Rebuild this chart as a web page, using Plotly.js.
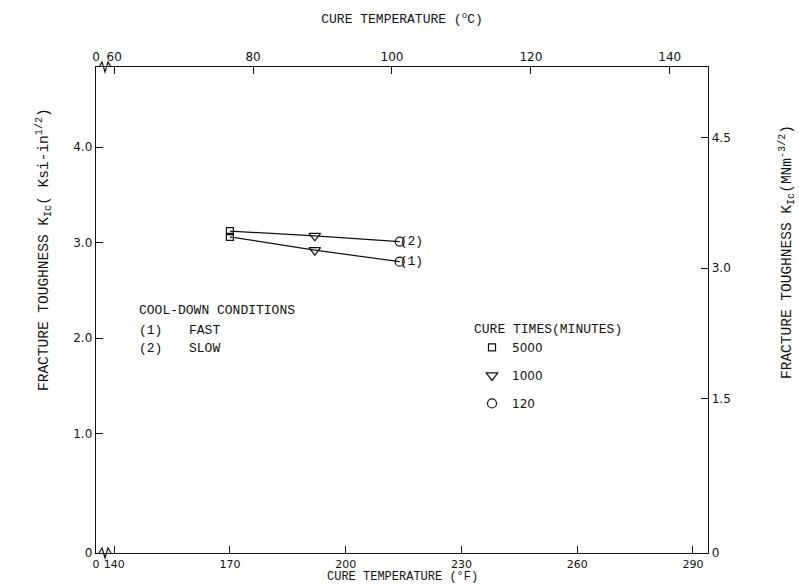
<!DOCTYPE html>
<html>
<head>
<meta charset="utf-8">
<script src="https://cdn.plot.ly/plotly-3.0.1.min.js"></script>
<style>html,body{margin:0;padding:0;background:#fff;}#chart{width:799px;height:585px;}</style>
</head>
<body>
<div id="chart"></div>
<script>
// ---- data ----
const tempF = [170, 192, 214];                 // cure temperature (°F)
const cureTimes = ['5000', '1000', '120'];     // cure time (minutes) at each temperature
const kSlow = [3.12, 3.07, 3.01];              // K_Ic (ksi·in^1/2), slow cool-down (2)
const kFast = [3.06, 2.92, 2.80];              // K_Ic (ksi·in^1/2), fast cool-down (1)
const lineLabels = ['(2)', '(1)'];
const xTicksF = [140, 170, 200, 230, 260, 290];
const xTicksC = [60, 80, 100, 120, 140];
const yTicksKsi = [1, 2, 3, 4];
const yTicksMN = [1.5, 3.0, 4.5];

// ---- scales ----
const KSI_TO_MN = 1.0988;
const xRangeF = [135.3, 293.9];
const xRangeC = xRangeF.map(f => (f - 32) / 1.8);
const yRange = [-0.251, 4.838];
const yRange2 = yRange.map(v => v * KSI_TO_MN);

const mono = 'Liberation Mono, Courier New, monospace';
const tickFont = {family: 'DejaVu Sans, Liberation Sans, sans-serif', size: 12, color: '#111'};
const symbols = ['square-open', 'triangle-down-open', 'circle-open'];
const sizes = [7, 10, 9];

const traces = [];
[kSlow, kFast].forEach((ks, i) => {
  traces.push({
    x: tempF, y: ks, type: 'scatter', mode: 'lines+text',
    line: {color: '#111', width: 1.2},
    text: ks.map((_, j) => j === ks.length - 1 ? lineLabels[i] : ''),
    textposition: 'middle right',
    textfont: {family: mono, size: 13, color: '#111'},
    showlegend: false, hoverinfo: 'skip'
  });
});
cureTimes.forEach((ct, j) => {
  traces.push({
    x: [tempF[j], tempF[j]], y: [kSlow[j], kFast[j]],
    type: 'scatter', mode: 'markers', name: ct, legendgroup: 'g' + j,
    marker: {symbol: symbols[j], size: sizes[j], color: '#111', line: {width: 1.2, color: '#111'}}
  });
});
// invisible traces to activate secondary axes
traces.push({x: xRangeC, y: [null, null], xaxis: 'x2', yaxis: 'y', mode: 'markers', showlegend: false, hoverinfo: 'skip'});
traces.push({x: xRangeF, y: [null, null], xaxis: 'x', yaxis: 'y2', mode: 'markers', showlegend: false, hoverinfo: 'skip'});

const W = 799, H = 585, L = 96, R = 91, T = 67, B = 32;
const pw = W - L - R, ph = H - T - B;
const px = x => (x - L) / pw;
const py = y => (H - B - y) / ph;

function zig(x0, y0) {
  const dx = 3 / pw, dy = 5 / ph;
  const X = px(x0), Y = py(y0);
  return `M ${X},${Y} L ${X + dx},${Y + dy} L ${X + 2*dx},${Y - dy} L ${X + 3*dx},${Y + dy} L ${X + 4*dx},${Y}`;
}

function note(text, x, y, extra) {
  return Object.assign({text: text, x: px(x), y: py(y), xref: 'paper', yref: 'paper',
    xanchor: 'left', yanchor: 'middle', showarrow: false, font: {family: mono, size: 13, color: '#111'}}, extra || {});
}

const axisCommon = {
  showgrid: false, zeroline: false, showline: true, linecolor: '#111', linewidth: 1.3,
  ticks: 'inside', ticklen: 7, tickcolor: '#111', tickfont: tickFont
};

const layout = {
  width: W, height: H,
  margin: {l: L, r: R, t: T, b: B},
  paper_bgcolor: '#fff', plot_bgcolor: '#fff',
  font: {family: mono, color: '#111'},
  showlegend: true,
  legend: {
    x: px(472), y: py(316), xanchor: 'left', yanchor: 'top',
    bgcolor: 'rgba(0,0,0,0)', borderwidth: 0,
    font: {family: 'DejaVu Sans, sans-serif', size: 12, color: '#111'},
    title: {text: 'CURE TIMES(MINUTES)', side: 'top', font: {family: mono, size: 13, color: '#111'}},
    tracegroupgap: 9, itemclick: false
  },
  xaxis: Object.assign({}, axisCommon, {
    range: xRangeF,
    tickvals: [xRangeF[0]].concat(xTicksF), ticktext: ['0'].concat(xTicksF.map(String)),
    tickfont: {family: 'DejaVu Sans, sans-serif', size: 11, color: '#111'}
  }),
  xaxis2: Object.assign({}, axisCommon, {
    range: xRangeC, overlaying: 'x', side: 'top', anchor: 'y',
    tickvals: [xRangeC[0]].concat(xTicksC), ticktext: ['0'].concat(xTicksC.map(String)),
    title: {text: 'CURE TEMPERATURE (<sup>o</sup>C)', font: {family: mono, size: 13, color: '#111'}, standoff: 23}
  }),
  yaxis: Object.assign({}, axisCommon, {
    range: yRange,
    tickvals: [yRange[0]].concat(yTicksKsi), ticktext: ['0'].concat(yTicksKsi.map(v => v.toFixed(1)))
  }),
  yaxis2: Object.assign({}, axisCommon, {
    range: yRange2, overlaying: 'y', side: 'right', anchor: 'x',
    tickvals: [yRange2[0]].concat(yTicksMN), ticktext: ['0'].concat(yTicksMN.map(v => v.toFixed(1)))
  }),
  annotations: [
    note('COOL-DOWN CONDITIONS', 137, 310),
    note('(1)', 137, 330),
    note('FAST', 187, 330),
    note('(2)', 137, 348),
    note('SLOW', 187, 348),
    note('CURE TEMPERATURE (°F)', 402, 586, {xanchor: 'center', yanchor: 'bottom', font: {family: mono, size: 12, color: '#111'}}),
    note('FRACTURE TOUGHNESS K<sub>Ic</sub>( Ksi-in<sup>1/2</sup>)', 44, 250, {xanchor: 'center', textangle: -90, font: {family: mono, size: 14.5, color: '#111'}}),
    note('FRACTURE TOUGHNESS K<sub>Ic</sub>(MNm<sup>-3/2</sup>)', 787, 252, {xanchor: 'center', textangle: -90, font: {family: mono, size: 14.5, color: '#111'}})
  ],
  shapes: [
    {type: 'path', xref: 'paper', yref: 'paper', path: zig(99, 553), line: {color: '#111', width: 1.2}},
    {type: 'path', xref: 'paper', yref: 'paper', path: zig(99, 67), line: {color: '#111', width: 1.2}}
  ]
};

Plotly.newPlot('chart', traces, layout, {staticPlot: true, displayModeBar: false});
</script>
</body>
</html>
